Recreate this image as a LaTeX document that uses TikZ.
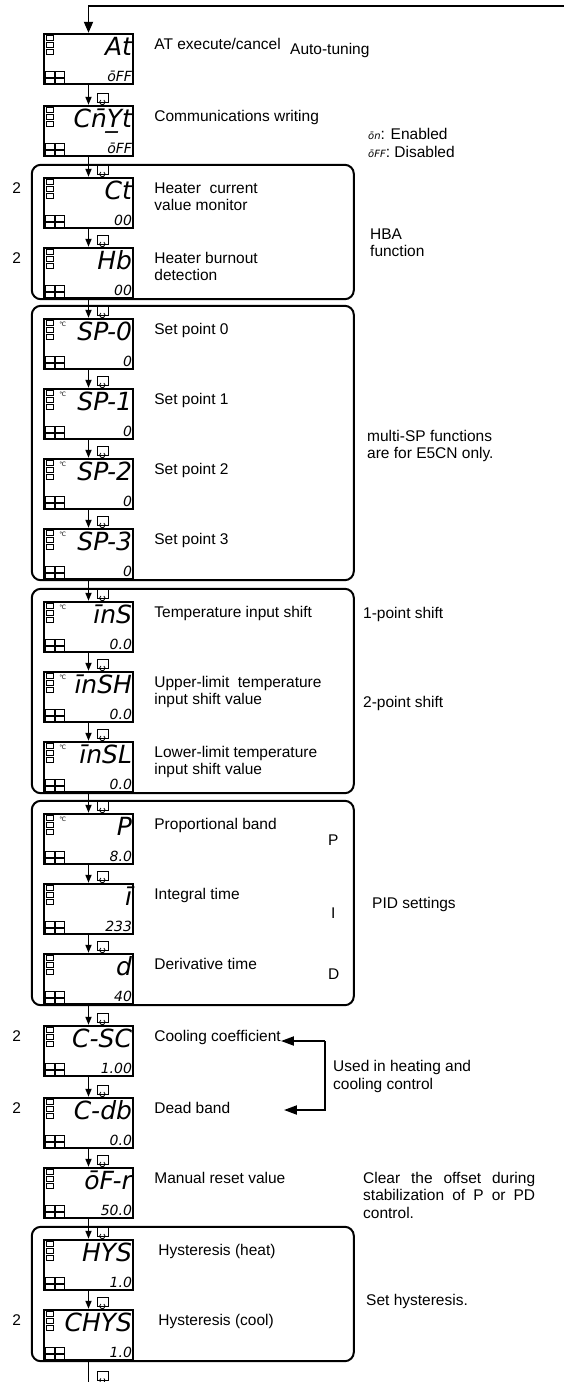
\documentclass[tikz,border=0pt]{standalone}
\usepackage{fontspec}
\setmainfont{Liberation Sans}
\newfontfamily\segfont{DejaVu Sans}
\usetikzlibrary{arrows.meta, positioning, calc}

% panel display: name, top edge, parameter, value, unit mark (1/0)
\newcommand{\paneldisp}[5]{%
  \node[lcd] (#1) at (88.5,#2+26) {};
  \foreach \k in {0,1,2}
    \draw[lamp] ($(#1.north west)+(4,3+7*\k)$) rectangle +(7,5);
  \foreach \i in {0,1}
    \foreach \j in {0,1}
      \draw[lamp] ($(#1.south west)+(3+10*\i,-14+7*\j)$) rectangle +(9,6);
  \node[segbig] at ($(#1.north east)+(-2,23)$) {#3};
  \node[segsmall] at ($(#1.south east)+(-2,-4)$) {#4};
  \ifnum#5=1 \node[unit] at ($(#1.north west)+(20,7)$) {℃};\fi
}
% cycle key mark just above a display
\newcommand{\keymark}[2]{%
  \node[keybox] (#1) at ($(#2.north)+(14,-7)$) {};
  \draw[line width=0.8pt] ($(#1.center)+(-1.6,2.2)$) arc[start angle=235, end angle=-55, radius=2.6];
}

\begin{document}
\begin{tikzpicture}[x=1pt, y=-1pt,
    lcd/.style={draw, line width=2.4pt, minimum width=89pt, minimum height=50pt, inner sep=0pt},
    lamp/.style={line width=0.9pt},
    segbig/.style={anchor=base east, inner sep=0pt, font=\segfont\itshape\fontsize{25}{25}\selectfont},
    segsmall/.style={anchor=base east, inner sep=0pt, font=\segfont\itshape\fontsize{14}{14}\selectfont},
    unit/.style={inner sep=0pt, font=\segfont\fontsize{6}{6}\selectfont},
    keybox/.style={draw, line width=0.8pt, minimum width=11pt, minimum height=9pt, inner sep=0pt},
    flow/.style={line width=1.6pt, -{Triangle[length=8pt, width=6pt]}},
    bigflow/.style={line width=2pt, -{Triangle[length=13pt, width=9pt]}},
    lbl/.style={anchor=base west, inner sep=0pt, align=left, font=\fontsize{15.5}{17.5}\selectfont},
    grp/.style={line width=2pt, rounded corners=9pt}
  ]
  \useasboundingbox (0,0) rectangle (564,1382);

  % displays
  \paneldisp{at}{33}{At}{ōFF}{0}
  \paneldisp{cmwt}{105}{Cn̄Y̲t}{ōFF}{0}
  \paneldisp{ct}{177}{Ct}{00}{0}
  \paneldisp{hb}{247}{Hb}{00}{0}
  \paneldisp{sp0}{318}{SP-0}{0}{1}
  \paneldisp{sp1}{388}{SP-1}{0}{1}
  \paneldisp{sp2}{458}{SP-2}{0}{1}
  \paneldisp{sp3}{528}{SP-3}{0}{1}
  \paneldisp{ins}{601}{īnS}{0.0}{1}
  \paneldisp{insh}{671}{īnSH}{0.0}{1}
  \paneldisp{insl}{741}{īnSL}{0.0}{1}
  \paneldisp{pb}{813}{P}{8.0}{1}
  \paneldisp{it}{883}{ī}{233}{0}
  \paneldisp{dt}{953}{d}{40}{0}
  \paneldisp{csc}{1025}{C-SC}{1.00}{0}
  \paneldisp{cdb}{1097}{C-db}{0.0}{0}
  \paneldisp{ofr}{1167}{ōF-r}{50.0}{0}
  \paneldisp{hys}{1239}{HYS}{1.0}{0}
  \paneldisp{chys}{1309}{CHYS}{1.0}{0}

  % return line into the first display
  \coordinate (ret) at (564,6);
  \draw[line width=1.8pt, -{Triangle[length=11pt, width=9pt]}] (ret) -- (ret -| at.north) -- (at.north);

  % step arrows and key marks
  \foreach \a/\b [count=\n] in {at/cmwt, cmwt/ct, ct/hb, hb/sp0, sp0/sp1, sp1/sp2, sp2/sp3, sp3/ins,
      ins/insh, insh/insl, insl/pb, pb/it, it/dt, dt/csc, csc/cdb, cdb/ofr, ofr/hys, hys/chys} {
    \draw[flow] (\a.south) -- (\b.north);
    \keymark{key\n}{\b}
  }
  \coordinate (out) at ($(chys.south)+(0,22)$);
  \draw[line width=1.6pt] (chys.south) -- (out);
  \keymark{keyend}{out}

  % groups
  \draw[grp] ($(ct.north west)+(-11,-12)$) rectangle ($(hb.south west)+(311,0)$);
  \draw[grp] ($(sp0.north west)+(-11,-12)$) rectangle ($(sp3.south west)+(311,0)$);
  \draw[grp] ($(ins.north west)+(-11,-12)$) rectangle ($(insl.south west)+(311,0)$);
  \draw[grp] ($(pb.north west)+(-11,-12)$) rectangle ($(dt.south west)+(311,0)$);
  \draw[grp] ($(hys.north west)+(-11,-12)$) rectangle ($(chys.south west)+(311,0)$);

  % parameter names
  \node[lbl] (atl) at ($(at.north east)+(20,16.5)$) {AT execute/cancel};
  \node[lbl] (cmwtl) at ($(cmwt.north east)+(20,16.5)$) {Communications writing};
  \node[lbl] (ctl) at ($(ct.north east)+(20,34)$) {Heater\ \ current\\value monitor};
  \node[lbl] (hbl) at ($(hb.north east)+(20,34)$) {Heater burnout\\detection};
  \node[lbl] (sp0l) at ($(sp0.north east)+(20,16.5)$) {Set point 0};
  \node[lbl] (sp1l) at ($(sp1.north east)+(20,16.5)$) {Set point 1};
  \node[lbl] (sp2l) at ($(sp2.north east)+(20,16.5)$) {Set point 2};
  \node[lbl] (sp3l) at ($(sp3.north east)+(20,16.5)$) {Set point 3};
  \node[lbl] (insn) at ($(ins.north east)+(20,16.5)$) {Temperature input shift};
  \node[lbl] (inshn) at ($(insh.north east)+(20,34)$) {Upper-limit\ \ temperature\\input shift value};
  \node[lbl] (insln) at ($(insl.north east)+(20,34)$) {Lower-limit temperature\\input shift value};
  \node[lbl] (pbl) at ($(pb.north east)+(20,16.5)$) {Proportional band};
  \node[lbl] (itl) at ($(it.north east)+(20,16.5)$) {Integral time};
  \node[lbl] (dtl) at ($(dt.north east)+(20,16.5)$) {Derivative time};
  \node[lbl] (cscl) at ($(csc.north east)+(20,16.5)$) {Cooling coefficient};
  \node[lbl] (cdbl) at ($(cdb.north east)+(20,16.5)$) {Dead band};
  \node[lbl] (ofrl) at ($(ofr.north east)+(20,16.5)$) {Manual reset value};
  \node[lbl] (hysl) at ($(hys.north east)+(24,16.5)$) {Hysteresis (heat)};
  \node[lbl] (chysl) at ($(chys.north east)+(24,16.5)$) {Hysteresis (cool)};

  % option marks
  \foreach \d in {ct, hb, csc, cdb, chys}
    \node[lbl, anchor=base] at ($(\d.north west)+(-26,16.5)$) {2};

  % notes
  \node[lbl] (autol) at (290,54.5) {Auto-tuning};
  \node[lbl] (onoff) at (368,157) {{\segfont\itshape\fontsize{10}{10}\selectfont ōn}: Enabled\\{\segfont\itshape\fontsize{10}{10}\selectfont ōFF}: Disabled};
  \node[lbl] (hba) at (370,256.5) {HBA\\function};
  \node[lbl] (msp) at (367,458.5) {multi-SP functions\\are for E5CN only.};
  \node[lbl] (onept) at (363,618) {1-point shift};
  \node[lbl] (twopt) at (363,707) {2-point shift};
  \node[lbl] (pl) at (328,845.5) {P};
  \node[lbl] (il) at (331,918.5) {I};
  \node[lbl] (dl) at (328,979.5) {D};
  \node[lbl] (pid) at (372,908.5) {PID settings};
  \node[lbl] (heatcool) at (333,1089) {Used in heating and\\cooling control};
  \node[lbl, text width=172pt, align=justify] (offset) at (363,1183) {Clear the offset during stabilization of P or PD control.};
  \node[lbl] (sethys) at (366,1305.5) {Set hysteresis.};

  % bracket for heating and cooling
  \coordinate (bt) at (325,1041);
  \coordinate (bb) at (325,1110);
  \draw[bigflow] (bt) -- (bt -| cscl.east);
  \draw[bigflow] (bt) -- (bb) -- ([xshift=3pt]bb -| cscl.east);
\end{tikzpicture}
\end{document}
